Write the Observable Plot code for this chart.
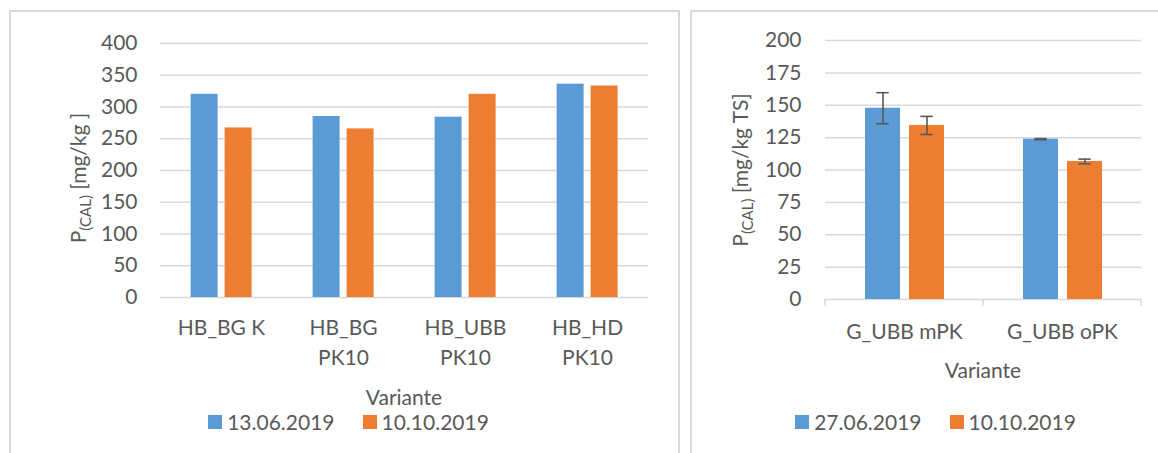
<!DOCTYPE html>
<html><head><meta charset="utf-8">
<script src="https://cdn.jsdelivr.net/npm/d3@7"></script>
<script src="https://cdn.jsdelivr.net/npm/@observablehq/plot@0.6"></script>
<style>
body{margin:0;background:#fff;font-family:Lato,sans-serif;color:#595959;}
#root{position:relative;width:1158px;height:453px;overflow:hidden;background:#fff;}
.panel{position:absolute;border:2px solid #d9d9d9;box-sizing:border-box;}
.abs{position:absolute;white-space:nowrap;font-size:21px;line-height:21px;}
.ylab{position:absolute;white-space:nowrap;font-size:21px;line-height:21px;transform:translate(-50%,-50%) rotate(-90deg);}
.ylab .sub{font-size:15px;position:relative;top:5px;}
.legend{position:absolute;display:flex;justify-content:center;font-size:21px;line-height:21px;}
.legend .item{display:flex;align-items:center;margin:0 14px;}
.legend .sw{width:14px;height:14px;margin-right:5px;}
</style></head><body><div id="root"></div>
<script>
// ---- Left chart data ----
const catsL = ["HB_BG K", "HB_BG PK10", "HB_UBB PK10", "HB_HD PK10"];
const tickLabelsL = ["HB_BG K", "HB_BG\nPK10", "HB_UBB\nPK10", "HB_HD\nPK10"];
const seriesL = ["13.06.2019", "10.10.2019"];
const valuesL1 = [320, 285, 284, 336];
const valuesL2 = [267, 265.5, 320, 333];
const yTicksL = [0, 50, 100, 150, 200, 250, 300, 350, 400];

// ---- Right chart data ----
const catsR = ["G_UBB mPK", "G_UBB oPK"];
const seriesR = ["27.06.2019", "10.10.2019"];
const valuesR1 = [147.7, 123.8];
const valuesR2 = [134.4, 106.6];
const errR1 = [12, 0.4];
const errR2 = [7, 1.8];
const yTicksR = [0, 25, 50, 75, 100, 125, 150, 175, 200];

const colors = ["#5B9BD5", "#ED7D31"];
const gridColor = "#d9d9d9";
const textColor = "#595959";

const rowsL = catsL.flatMap((c, i) => [
  {cat: c, series: seriesL[0], v: valuesL1[i]},
  {cat: c, series: seriesL[1], v: valuesL2[i]}
]);
const rowsR = catsR.flatMap((c, i) => [
  {cat: c, series: seriesR[0], v: valuesR1[i], lo: valuesR1[i] - errR1[i], hi: valuesR1[i] + errR1[i]},
  {cat: c, series: seriesR[1], v: valuesR2[i], lo: valuesR2[i] - errR2[i], hi: valuesR2[i] + errR2[i]}
]);

const baseStyle = {background: "none", fontFamily: "Lato, sans-serif", fontSize: "21px", color: textColor, overflow: "visible", position: "absolute", top: "0px"};

const plotL = Plot.plot({
  width: 685, height: 400,
  marginLeft: 159.4, marginRight: 36, marginTop: 43, marginBottom: 103,
  style: {...baseStyle, left: "0px"},
  fx: {domain: catsL, paddingInner: 0, paddingOuter: 0},
  x: {domain: seriesL, paddingInner: 0.218, paddingOuter: 0.862, axis: null},
  y: {domain: [0, 400]},
  color: {domain: seriesL, range: colors},
  marks: [
    Plot.gridY(yTicksL, {stroke: gridColor, strokeOpacity: 1, strokeWidth: 1.5}),
    Plot.axisY(yTicksL, {tickSize: 0, tickPadding: 23, label: null}),
    Plot.axisFx({anchor: "bottom", tickSize: 0, tickPadding: 17, label: null, lineHeight: 1.4,
      tickFormat: d => tickLabelsL[catsL.indexOf(d)]}),
    Plot.barY(rowsL, {fx: "cat", x: "series", y: "v", fill: "series"})
  ]
});

const plotR = Plot.plot({
  width: 468, height: 400,
  marginLeft: 134, marginRight: 16.3, marginTop: 40, marginBottom: 101,
  style: {...baseStyle, left: "690px"},
  fx: {domain: catsR, paddingInner: 0, paddingOuter: 0},
  x: {domain: seriesR, paddingInner: 0.21, paddingOuter: 0.88, axis: null},
  y: {domain: [0, 200]},
  color: {domain: seriesR, range: colors},
  marks: [
    Plot.gridY(yTicksR, {stroke: gridColor, strokeOpacity: 1, strokeWidth: 1.5}),
    Plot.axisY(yTicksR, {tickSize: 0, tickPadding: 24, label: null}),
    Plot.axisFx({anchor: "bottom", tickSize: 0, tickPadding: 25, label: null}),
    Plot.barY(rowsR, {fx: "cat", x: "series", y: "v", fill: "series"}),
    Plot.ruleX(rowsR, {fx: "cat", x: "series", y1: "lo", y2: "hi", stroke: textColor, strokeWidth: 1.6}),
    Plot.tickY(rowsR, {fx: "cat", x: "series", y: "lo", stroke: textColor, strokeWidth: 1.6, insetLeft: 11.3, insetRight: 11.3}),
    Plot.tickY(rowsR, {fx: "cat", x: "series", y: "hi", stroke: textColor, strokeWidth: 1.6, insetLeft: 11.3, insetRight: 11.3})
  ]
});

// category boundary tick marks on the right chart's bottom axis
{
  const fx = plotR.scale("fx");
  const y = plotR.scale("y");
  const y0 = y.apply(0);
  const edges = fx.domain.map(d => fx.apply(d));
  edges.push(fx.apply(fx.domain[fx.domain.length - 1]) + fx.bandwidth);
  d3.select(plotR).append("g").selectAll("line").data(edges).join("line")
    .attr("x1", d => d).attr("x2", d => d)
    .attr("y1", y0).attr("y2", y0 + 7)
    .attr("stroke", gridColor).attr("stroke-width", 1.5);
}

const root = document.getElementById("root");
function el(html) { const t = document.createElement("template"); t.innerHTML = html.trim(); return t.content.firstChild; }

root.appendChild(el(`<div class="panel" style="left:9px;top:10px;width:671px;height:470px"></div>`));
root.appendChild(el(`<div class="panel" style="left:690px;top:10px;width:500px;height:470px"></div>`));

root.appendChild(plotL);
root.appendChild(plotR);

root.appendChild(el(`<div class="ylab" style="left:79px;top:178px">P<span class="sub">(CAL)</span> [mg/kg ]</div>`));
root.appendChild(el(`<div class="ylab" style="left:741px;top:170px">P<span class="sub">(CAL)</span> [mg/kg TS]</div>`));

root.appendChild(el(`<div class="abs" style="left:159px;width:490px;text-align:center;top:386px">Variante</div>`));
root.appendChild(el(`<div class="abs" style="left:824px;width:318px;text-align:center;top:359px">Variante</div>`));

function legend(series, left, width, top) {
  const d = el(`<div class="legend" style="left:${left}px;width:${width}px;top:${top}px"></div>`);
  series.forEach((s, i) => {
    d.appendChild(el(`<div class="item"><div class="sw" style="background:${colors[i]}"></div><span>${s}</span></div>`));
  });
  root.appendChild(d);
}
legend(seriesL, 13, 671, 411);
legend(seriesR, 690, 491, 411);
</script>
</body></html>
